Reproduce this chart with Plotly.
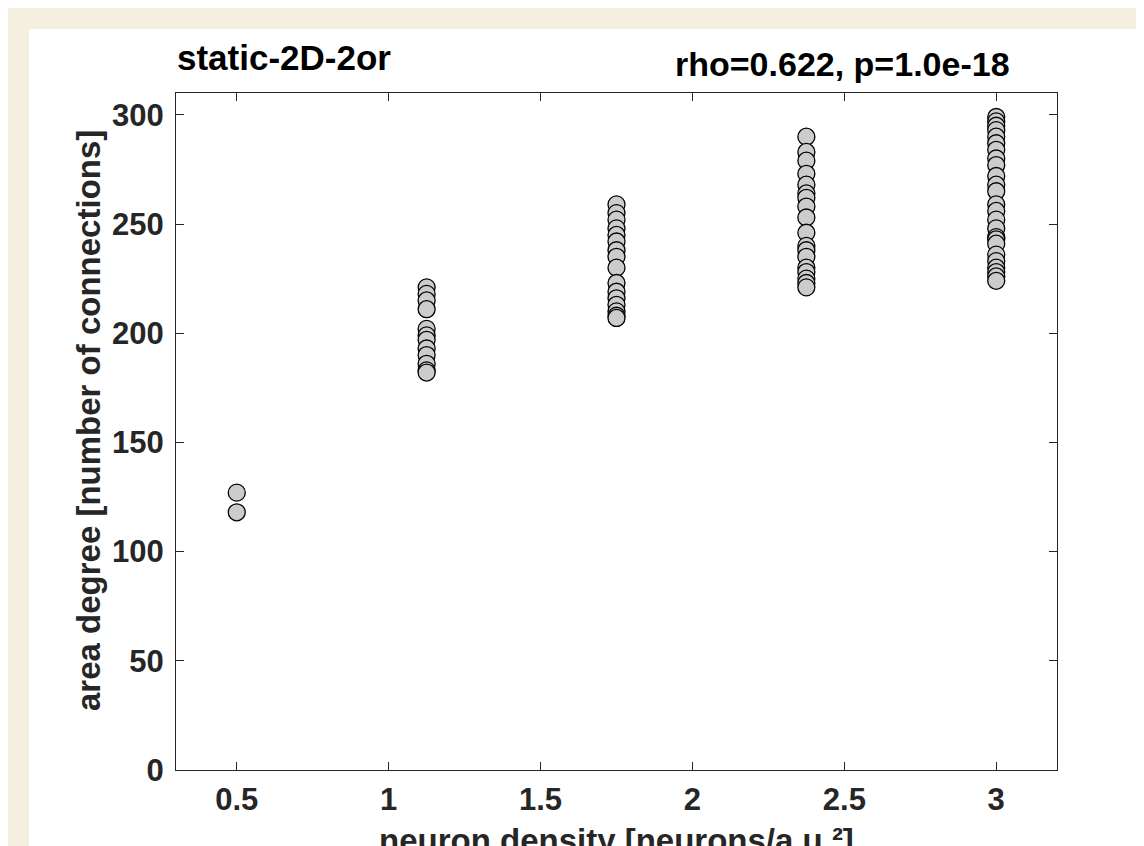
import plotly.graph_objects as go

# ---- data ----
density_levels = [0.5, 1.125, 1.75, 2.375, 3.0]
deg_05 = [127, 118]
deg_1125 = [221, 218, 215, 211, 202, 199, 197, 193, 190, 186, 183, 182]
deg_175 = [259, 255, 252, 248, 245, 242, 238, 235, 230, 223, 219, 216, 213, 210, 208, 207]
deg_2375 = [290, 283, 279, 273, 268, 264, 262, 258, 253, 246, 240, 238, 235, 230, 228, 225, 223, 221]
deg_3 = [299, 297, 295, 293, 290, 287, 284, 280, 277, 272, 268, 265, 259, 256, 252, 248, 244,
         243, 241, 236, 233, 230, 228, 226, 224]
groups = [deg_05, deg_1125, deg_175, deg_2375, deg_3]

x_ticks = [0.5, 1, 1.5, 2, 2.5, 3]
y_ticks = [0, 50, 100, 150, 200, 250, 300]
title_left = "static-2D-2or"
title_right = "rho=0.622, p=1.0e-18"
x_label = "neuron density [neurons/a.u.²]"
y_label = "area degree [number of connections]"

xs, ys = [], []
for d, g in zip(density_levels, groups):
    xs += [d] * len(g)
    ys += g

FONT = "Liberation Sans, Arial, Helvetica, sans-serif"
AX = "#262626"

fig = go.Figure()
fig.add_trace(go.Scatter(
    x=xs, y=ys, mode="markers",
    marker=dict(size=17, color="#cccccc", line=dict(color="black", width=1.3)),
    showlegend=False, hoverinfo="x+y"))

OFF = 8  # page body offset
W, H = 1144 - OFF, 846 - OFF
L, R, T, B = 176 - OFF, 1057 - OFF, 93 - OFF, 770 - OFF
pw, ph = R - L, B - T

def px(xs_screen):
    return (xs_screen - OFF - L) / pw

def py(ys_screen):
    return (B - (ys_screen - OFF)) / ph

axis_common = dict(showline=True, linecolor=AX, linewidth=1.3, mirror="ticks",
                   ticks="inside", ticklen=8, tickcolor=AX, tickwidth=1.3,
                   showgrid=False, zeroline=False,
                   tickfont=dict(family=FONT, size=31, color=AX, weight="bold"))

fig.update_layout(
    width=W, height=H,
    margin=dict(l=L, r=W - R, t=T, b=H - B),
    paper_bgcolor="#f5efdf", plot_bgcolor="white",
    xaxis=dict(range=[0.3, 3.2], tickvals=x_ticks, ticktext=[f"{v:g}" for v in x_ticks],
               ticklabelstandoff=2, **axis_common),
    yaxis=dict(range=[0, 310], tickvals=y_ticks, ticktext=[str(v) for v in y_ticks],
               ticklabelstandoff=5, **axis_common),
    shapes=[dict(type="rect", xref="paper", yref="paper", layer="below",
                 x0=px(29), x1=px(1144 + 20), y0=py(846 + 20), y1=py(29),
                 fillcolor="white", line=dict(width=0))],
    annotations=[
        dict(text=f"<b>{title_left}</b>", xref="paper", yref="paper",
             x=px(175), y=py(79), xanchor="left", yanchor="bottom", showarrow=False,
             font=dict(family=FONT, size=35, color="black")),
        dict(text=f"<b>{title_right}</b>", xref="paper", yref="paper",
             x=px(1012), y=py(85), xanchor="right", yanchor="bottom", showarrow=False,
             font=dict(family=FONT, size=34, color="black")),
        dict(text=f"<b>{y_label}</b>", xref="paper", yref="paper", textangle=-90,
             x=px(88), y=py(421), xanchor="center", yanchor="middle", showarrow=False,
             font=dict(family=FONT, size=33, color=AX)),
        dict(text=f"<b>{x_label}</b>", xref="paper", yref="paper",
             x=px(616), y=py(820), xanchor="center", yanchor="top", showarrow=False,
             font=dict(family=FONT, size=33, color=AX)),
    ],
)

fig.write_html("out.html")
